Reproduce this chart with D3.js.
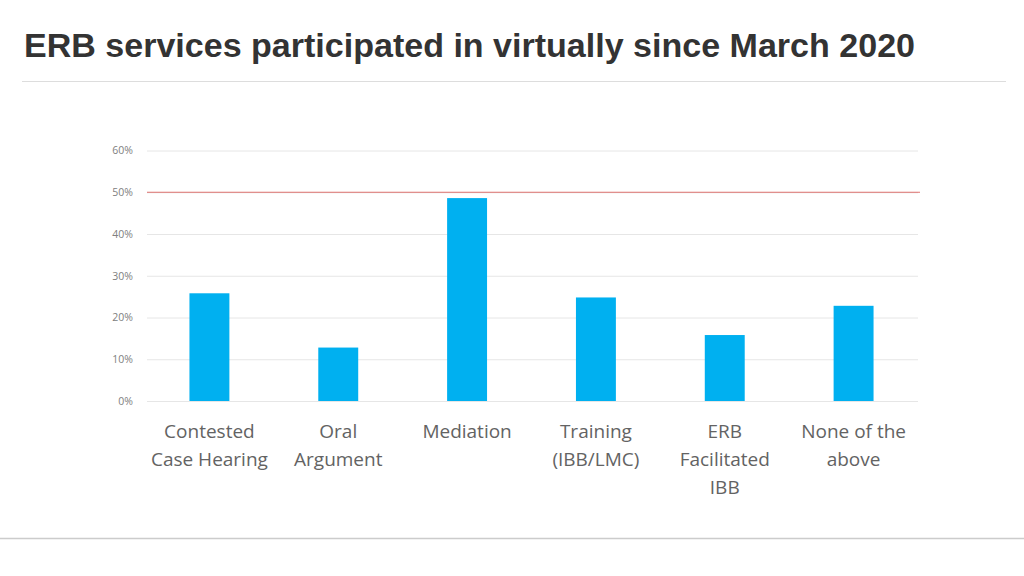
<!DOCTYPE html>
<html><head><meta charset="utf-8">
<script src="https://cdn.jsdelivr.net/npm/d3@7/dist/d3.min.js"></script>
<style>html,body{margin:0;padding:0;background:#fff;}svg{display:block;}</style>
</head><body>
<svg id="c" width="1024" height="576"></svg>
<script>
const categories = [["Contested","Case Hearing"],["Oral","Argument"],["Mediation"],["Training","(IBB/LMC)"],["ERB","Facilitated","IBB"],["None of the","above"]];
const values = [0.258, 0.128, 0.486, 0.248, 0.158, 0.228];
const yTicks = [0, 0.1, 0.2, 0.3, 0.4, 0.5, 0.6];
const refValue = 0.5;
const title = "ERB services participated in virtually since March 2020";

const svg = d3.select("#c");
svg.append("text").attr("x",24).attr("y",57).text(title)
  .attr("font-family","Liberation Sans, Arial, sans-serif").attr("font-weight","bold")
  .attr("font-size",34).attr("fill","#333333").attr("textLength",891).attr("lengthAdjust","spacingAndGlyphs");
svg.append("line").attr("x1",22).attr("x2",1006).attr("y1",81.5).attr("y2",81.5).attr("stroke","#dddddd").attr("stroke-width",1);
svg.append("line").attr("x1",0).attr("x2",1024).attr("y1",538.5).attr("y2",538.5).attr("stroke","#cccccc").attr("stroke-width",1.5);

const x = d3.scaleBand().domain(d3.range(categories.length)).range([145,918]).paddingInner(0.69).paddingOuter(0.345);
const y = d3.scaleLinear().domain([0,0.6]).range([401,150.5]);

const g = svg.append("g");
const yAxis = d3.axisLeft(y).tickValues(yTicks).tickFormat(d3.format(".0%")).tickSize(-(918-147)).tickPadding(14);
const ga = g.append("g").attr("transform","translate(147,0)").call(yAxis);
ga.select(".domain").remove();
ga.selectAll(".tick line").attr("stroke","#e6e6e6").attr("stroke-width",1);
ga.selectAll(".tick text").attr("fill","#808080").attr("font-family","Open Sans, sans-serif").attr("font-size",10.5);

g.selectAll("rect.bar").data(values).join("rect").attr("class","bar")
  .attr("x",(d,i)=>x(i)).attr("width",x.bandwidth())
  .attr("y",d=>y(d)).attr("height",d=>y(0)-y(d)).attr("fill","#00b0f0");

g.append("line").attr("x1",147).attr("x2",920).attr("y1",y(refValue)).attr("y2",y(refValue))
  .attr("stroke","#d9534f").attr("stroke-opacity",0.8).attr("stroke-width",1.2);

const lab = g.selectAll("text.cat").data(categories).join("text").attr("class","cat")
  .attr("text-anchor","middle").attr("font-family","Open Sans, sans-serif").attr("font-size",19).attr("fill","#636363");
lab.each(function(d,i){
  const t = d3.select(this);
  d.forEach((line,j)=>{
    t.append("tspan").attr("x",x(i)+x.bandwidth()/2).attr("y",438+j*28).text(line);
  });
});
</script>
</body></html>
